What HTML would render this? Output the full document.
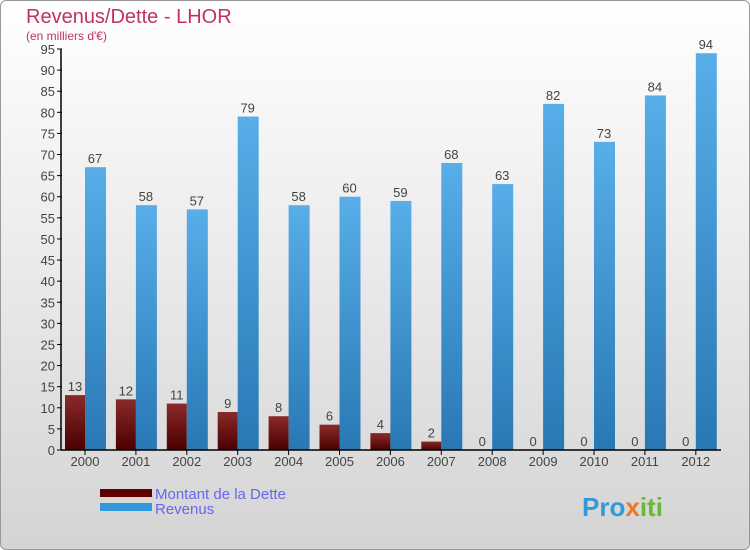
<!DOCTYPE html>
<html><head><meta charset="utf-8"><style>
body{margin:0;width:750px;height:550px;overflow:hidden;font-family:"Liberation Sans",sans-serif}
#c{position:absolute;left:0;top:0;width:748px;height:548px;border:1px solid #999;border-radius:6px;background:linear-gradient(#ffffff,#d4d4d4)}
</style></head><body>
<div id="c">
<svg id="s" width="750" height="550" style="position:absolute;left:-1px;top:-1px">
<defs>
<linearGradient id="gr" x1="0" y1="0" x2="0" y2="1"><stop offset="0" stop-color="#8a2a2a"/><stop offset="1" stop-color="#4a0000"/></linearGradient>
<linearGradient id="gb" x1="0" y1="0" x2="0" y2="1"><stop offset="0" stop-color="#58aee8"/><stop offset="1" stop-color="#2878b4"/></linearGradient>
</defs>
<text x="26" y="23" font-size="20" fill="#c0306a">Revenus/Dette - LHOR</text>
<text x="26" y="40" font-size="12" fill="#c0306a">(en milliers d'€)</text>
<g id="g"></g>
<rect x="100" y="489" width="52" height="8" fill="#600000"/>
<text x="155" y="499" font-size="15" fill="#6666ee">Montant de la Dette</text>
<rect x="100" y="503" width="52" height="8" fill="#3399dd"/>
<text x="155" y="514" font-size="15" fill="#6666ee">Revenus</text>
<text x="582" y="516" font-size="26" font-weight="bold" fill="#3399dd">Pro<tspan fill="#ee7722">x</tspan><tspan fill="#66bb33">iti</tspan></text>
</svg></div>
<script>
const years=["2000","2001","2002","2003","2004","2005","2006","2007","2008","2009","2010","2011","2012"];
const dette=[13,12,11,9,8,6,4,2,0,0,0,0,0];
const revenus=[67,58,57,79,58,60,59,68,63,82,73,84,94];
const yTicks=[0,5,10,15,20,25,30,35,40,45,50,55,60,65,70,75,80,85,90,95];
const NS="http://www.w3.org/2000/svg",g=document.getElementById("g");
const y=v=>450-v*401/95, xc=i=>85+i*50.9;
function el(t,a,txt){const e=document.createElementNS(NS,t);for(const k in a)e.setAttribute(k,a[k]);if(txt!==undefined)e.textContent=txt;g.appendChild(e);return e;}
yTicks.forEach(v=>{
 const l=el("line",{x1:57,x2:62,y1:y(v),y2:y(v),stroke:"#000"});
 
 
 const t=el("text",{x:55,y:y(v)+5,"text-anchor":"end","font-size":13,fill:"#444"},v);
 
 
});
years.forEach((yr,i)=>{
 const c=xc(i);
 const r=el("rect",{x:c-20,y:y(dette[i]),width:20,height:450-y(dette[i]),fill:"url(#gr)"});
 
 
 const b=el("rect",{x:c,y:y(revenus[i]),width:21,height:450-y(revenus[i]),fill:"url(#gb)"});
 
 
 const t1=el("text",{x:c-10,y:y(dette[i])-4,"text-anchor":"middle","font-size":13,fill:"#444"},dette[i]);
 
 
 const t2=el("text",{x:c+10,y:y(revenus[i])-4,"text-anchor":"middle","font-size":13,fill:"#444"},revenus[i]);
 
 
 const tk=el("line",{x1:c,x2:c,y1:450,y2:455,stroke:"#000"});
 
 
 const xl=el("text",{x:c,y:466,"text-anchor":"middle","font-size":13,fill:"#444"},yr);
 
 
});
const ax=el("line",{x1:61,x2:61,y1:y(95),y2:450,stroke:"#000","stroke-width":1.5});


const axx=el("line",{x1:61,x2:721,y1:450,y2:450,stroke:"#000","stroke-width":1.5});


</script>
</body></html>
